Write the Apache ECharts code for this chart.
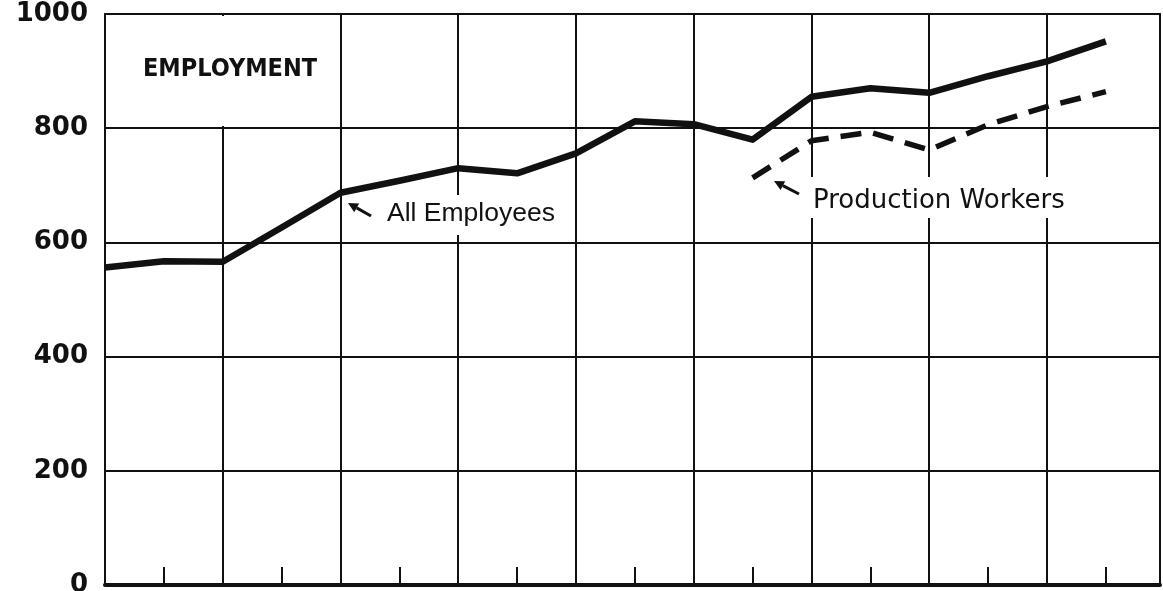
<!DOCTYPE html>
<html>
<head>
<meta charset="utf-8">
<script src="https://cdn.jsdelivr.net/npm/echarts@6/dist/echarts.min.js"></script>
<style>
  html, body { margin: 0; padding: 0; background: #fff; }
  #chart { width: 1163px; height: 591px; }
</style>
</head>
<body>
<div id="chart"></div>
<script>
// Half-year steps along the horizontal scale (one unit = one year)
const periods = [0, 0.5, 1, 1.5, 2, 2.5, 3, 3.5, 4, 4.5, 5, 5.5, 6, 6.5, 7, 7.5, 8, 8.5];

// Employment, thousands
const allEmployees = [556, 567, 566, 626, 687, 708, 730, 721, 756, 812, 807, 780, 855, 870, 862, 891, 917, 952];
const productionWorkers = [null, null, null, null, null, null, null, null, null, null, null, 713, 778, 793, 762, 806, 838, 864];

// Vertical scale
const yTicks = [0, 200, 400, 600, 800, 1000];

const ink = '#111';
const font = 'DejaVu Sans';

function pairs(values) {
  const out = [];
  values.forEach((v, i) => { if (v !== null) out.push([periods[i], v]); });
  return out;
}

// Small annotation arrow: straight shaft with a filled head at `head`
function arrow(tail, head) {
  const dx = head[0] - tail[0], dy = head[1] - tail[1];
  const len = Math.hypot(dx, dy);
  const ux = dx / len, uy = dy / len;
  const hl = 10, hw = 5;
  const bx = head[0] - ux * hl, by = head[1] - uy * hl;
  return [
    { type: 'line', z: 3, shape: { x1: tail[0], y1: tail[1], x2: bx, y2: by },
      style: { stroke: ink, lineWidth: 3 } },
    { type: 'polygon', z: 3,
      shape: { points: [head, [bx - uy * hw, by + ux * hw], [bx + uy * hw, by - ux * hw]] },
      style: { fill: ink } }
  ];
}

const chart = echarts.init(document.getElementById('chart'), null, { renderer: 'canvas' });

chart.setOption({
  animation: false,
  backgroundColor: '#fff',
  grid: { left: 105, right: 3, top: 14, bottom: 6, containLabel: false, outerBoundsMode: 'none' },
  xAxis: [
    {
      type: 'value', min: 0, max: 8.96, interval: 0.5, position: 'bottom',
      axisLine: { show: true, onZero: false, lineStyle: { color: ink, width: 4 } },
      axisTick: { show: true, inside: true, length: 18, lineStyle: { color: ink, width: 2 } },
      axisLabel: { show: false },
      splitLine: { show: false }
    },
    {
      type: 'value', min: 0, max: 8.96, interval: 1, position: 'top',
      axisLine: { show: true, onZero: false, lineStyle: { color: ink, width: 2 } },
      axisTick: { show: false },
      axisLabel: { show: false },
      splitLine: { show: true, lineStyle: { color: ink, width: 2 } }
    }
  ],
  yAxis: [
    {
      type: 'value', min: yTicks[0], max: yTicks[yTicks.length - 1], interval: 200, position: 'left',
      axisLine: { show: true, onZero: false, lineStyle: { color: ink, width: 2 } },
      axisTick: { show: false },
      axisLabel: {
        show: true, margin: 17, color: ink, fontFamily: font, fontSize: 26, fontWeight: 'bold',
        formatter: v => (yTicks.indexOf(v) >= 0 ? String(v) : '')
      },
      splitLine: { show: true, lineStyle: { color: ink, width: 2 } }
    },
    {
      type: 'value', min: 0, max: 1000, interval: 200, position: 'right',
      axisLine: { show: true, onZero: false, lineStyle: { color: ink, width: 2 } },
      axisTick: { show: false },
      axisLabel: { show: false },
      splitLine: { show: false }
    }
  ],
  series: [
    {
      name: 'All Employees', type: 'line', xAxisIndex: 0, yAxisIndex: 0,
      data: pairs(allEmployees), symbol: 'none', z: 4,
      lineStyle: { color: ink, width: 6.5, join: 'round', cap: 'butt' }
    },
    {
      name: 'Production Workers', type: 'line', xAxisIndex: 0, yAxisIndex: 0,
      data: pairs(productionWorkers), symbol: 'none', z: 4,
      lineStyle: { color: ink, width: 5.5, type: [21, 12], join: 'round', cap: 'butt' }
    }
  ],
  graphic: [
    // clear panels behind the lettering, breaking the rules under them
    { type: 'rect', z: 1, shape: { x: 108, y: 16, width: 226, height: 110 }, style: { fill: '#fff' } },
    { type: 'rect', z: 1, shape: { x: 380, y: 195, width: 186, height: 40 }, style: { fill: '#fff' } },
    { type: 'rect', z: 1, shape: { x: 806, y: 177, width: 287, height: 41 }, style: { fill: '#fff' } },

    { type: 'text', z: 3, x: 143, y: 69,
      style: { text: 'EMPLOYMENT', fill: ink, font: 'bold 25px "DejaVu Sans Condensed"', verticalAlign: 'middle', align: 'left' } },
    { type: 'text', z: 3, x: 387, y: 214,
      style: { text: 'All Employees', fill: ink, font: '26.5px "Liberation Sans"', verticalAlign: 'middle', align: 'left' } },
    { type: 'text', z: 3, x: 813, y: 201,
      style: { text: 'Production Workers', fill: ink, font: '26px "DejaVu Sans"', verticalAlign: 'middle', align: 'left' } },

    ...arrow([371, 216], [348, 203]),
    ...arrow([799, 194], [774, 181])
  ]
});
</script>
</body>
</html>
